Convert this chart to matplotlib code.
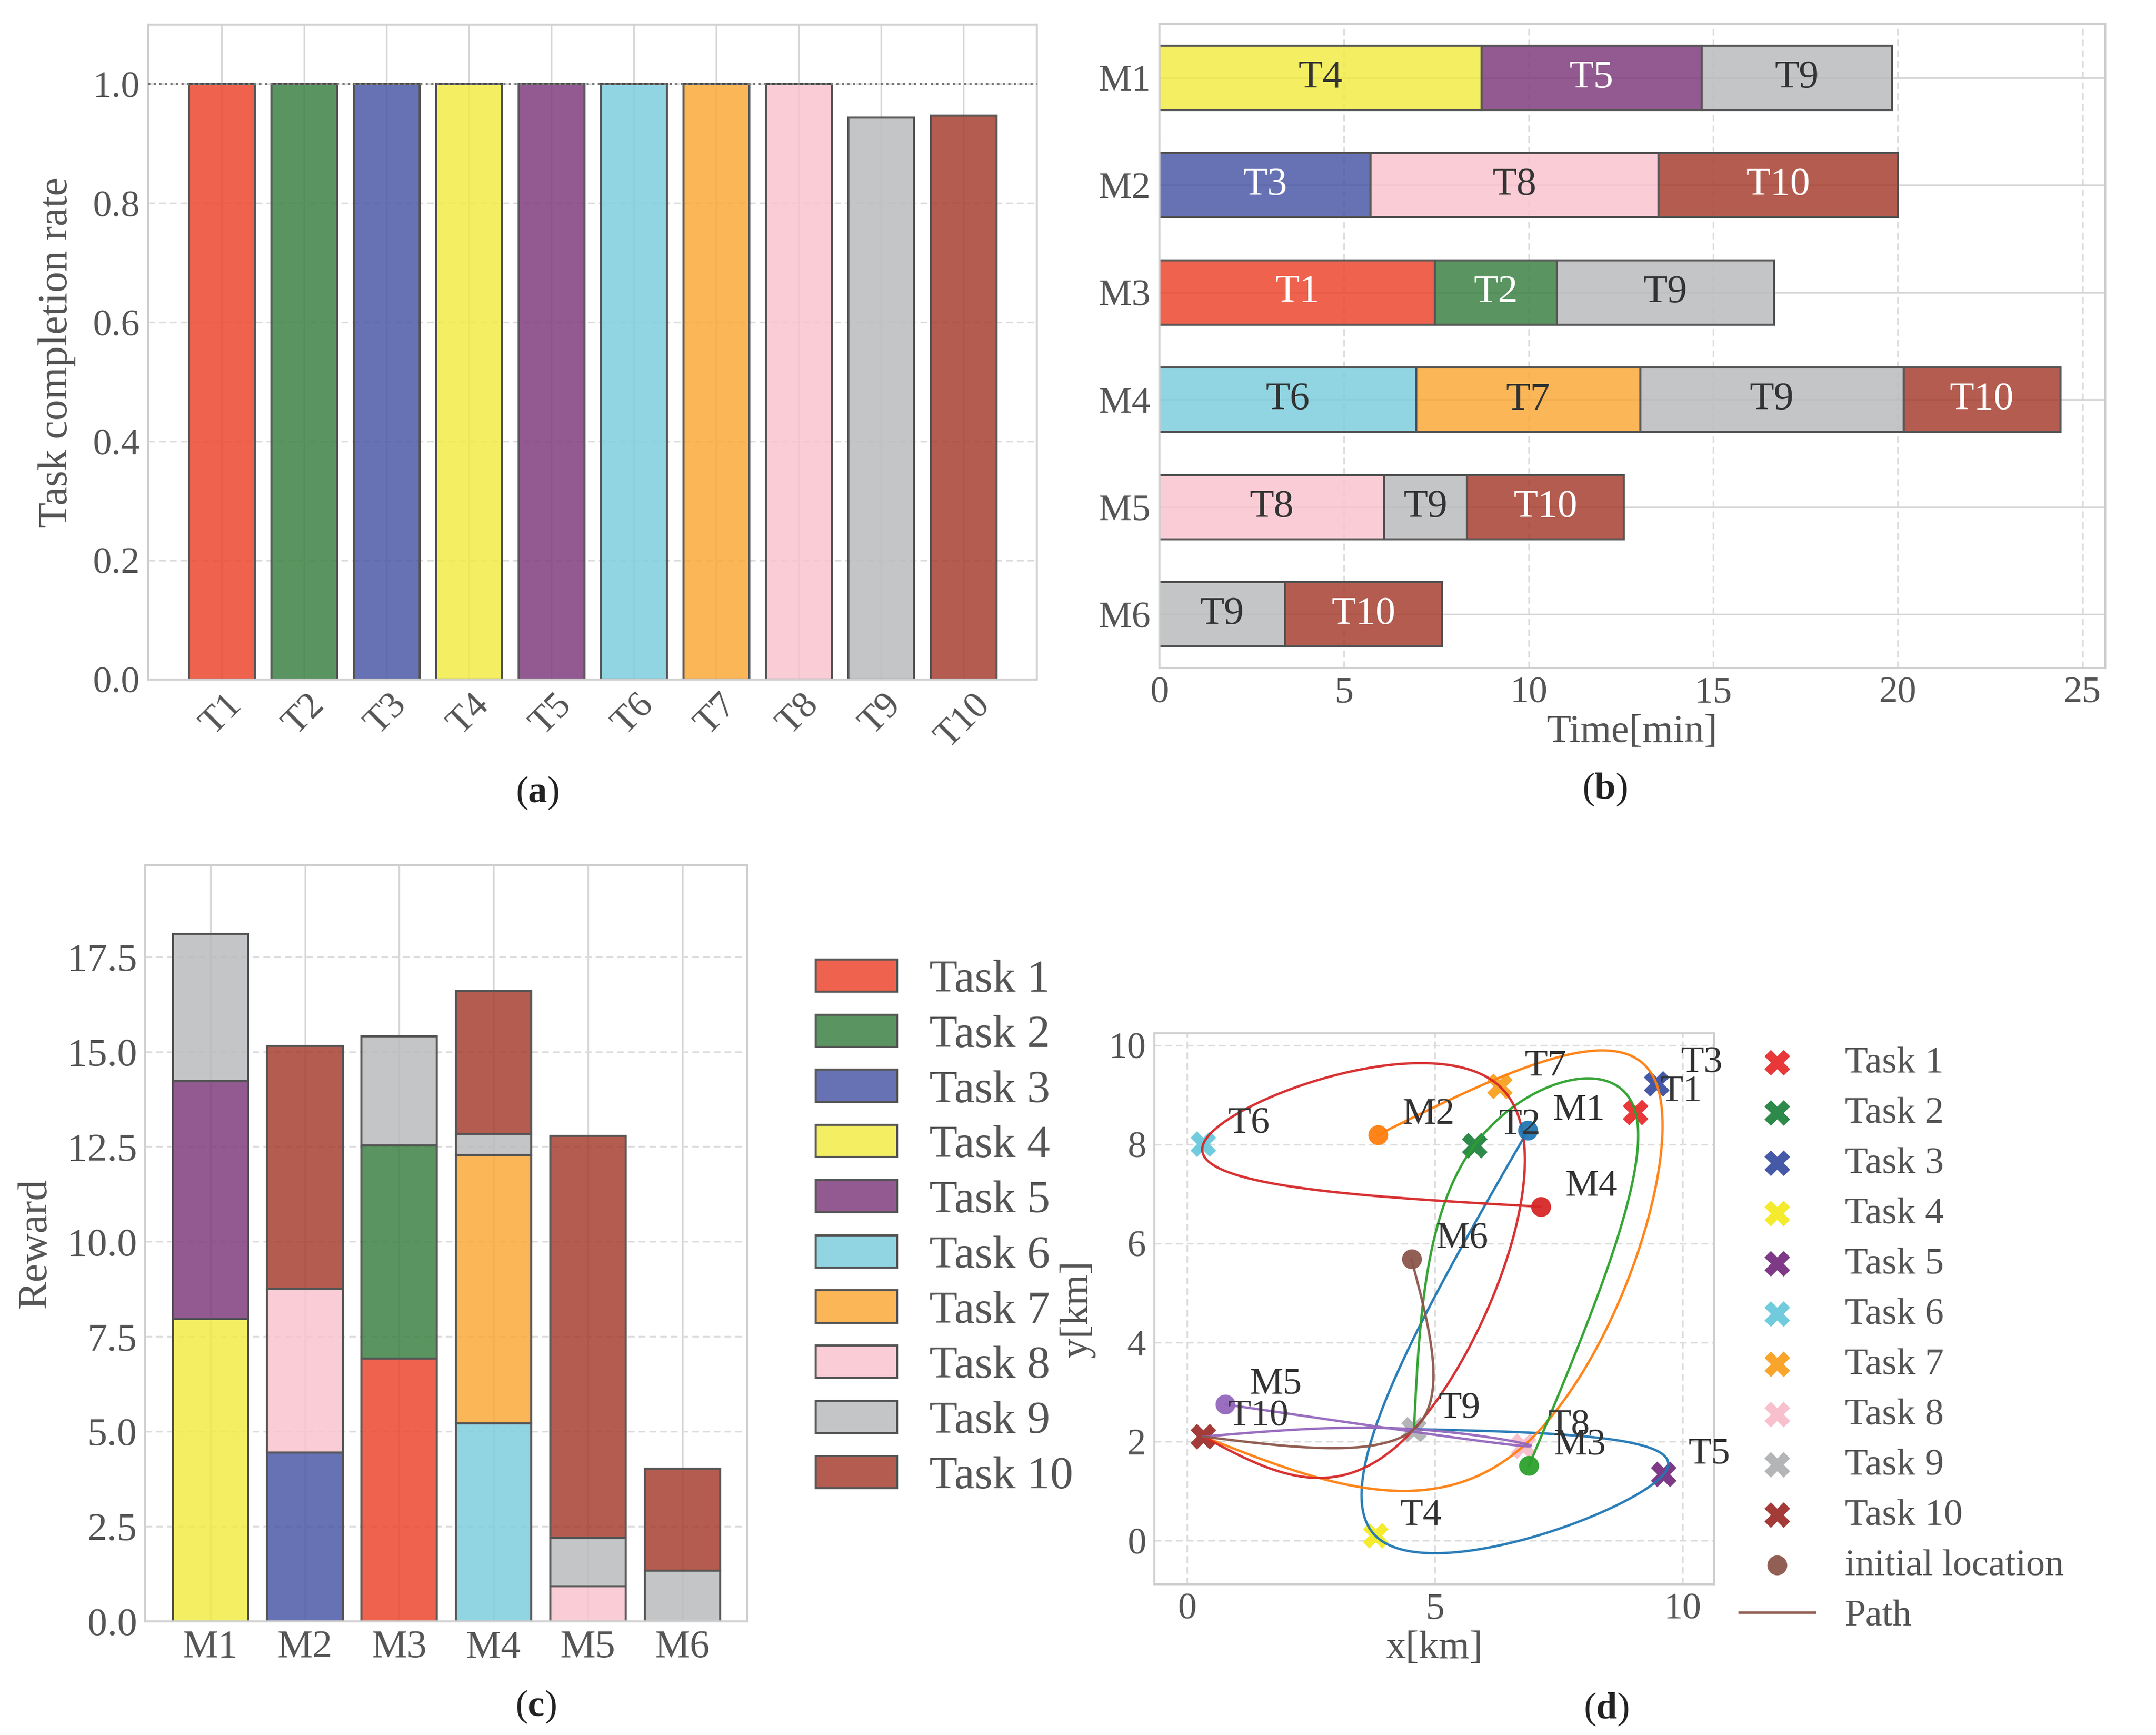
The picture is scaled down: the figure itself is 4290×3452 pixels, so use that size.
import numpy as np
import matplotlib
matplotlib.use('Agg')
import matplotlib.pyplot as plt
from matplotlib.colors import to_rgba
from matplotlib.patches import Patch

plt.rcParams['font.family'] = ['Liberation Serif', 'DejaVu Serif']
plt.rcParams['mathtext.fontset'] = 'custom'
plt.rcParams['mathtext.rm'] = 'Liberation Serif'
plt.rcParams['mathtext.bf'] = 'Liberation Serif:bold'

# ---------------- data ----------------
tasks = ['T1', 'T2', 'T3', 'T4', 'T5', 'T6', 'T7', 'T8', 'T9', 'T10']
task_names = ['Task 1', 'Task 2', 'Task 3', 'Task 4', 'Task 5',
              'Task 6', 'Task 7', 'Task 8', 'Task 9', 'Task 10']
completion_rate = [1.0, 1.0, 1.0, 1.0, 1.0, 1.0, 1.0, 1.0, 0.944, 0.947]

machines = ['M1', 'M2', 'M3', 'M4', 'M5', 'M6']
# task sequence per machine (task numbers), finish times [min], rewards
m1_seq = [4, 5, 9]
m2_seq = [3, 8, 10]
m3_seq = [1, 2, 9]
m4_seq = [6, 7, 9, 10]
m5_seq = [8, 9, 10]
m6_seq = [9, 10]

m1_end = [8.72, 14.69, 19.84]
m2_end = [5.72, 13.52, 19.99]
m3_end = [7.46, 10.77, 16.64]
m4_end = [6.95, 13.02, 20.16, 24.40]
m5_end = [6.08, 8.33, 12.58]
m6_end = [3.40, 7.65]

m1_reward = [7.97, 6.26, 3.88]
m2_reward = [4.44, 4.32, 6.39]
m3_reward = [6.92, 5.61, 2.87]
m4_reward = [5.21, 7.07, 0.56, 3.76]
m5_reward = [0.92, 1.27, 10.59]
m6_reward = [1.33, 2.69]

# task locations [km]
task_x = [9.05, 5.80, 9.47, 3.80, 9.62, 0.33, 6.31, 6.79, 4.58, 0.33]
task_y = [8.65, 7.98, 9.23, 0.10, 1.34, 8.01, 9.17, 1.91, 2.25, 2.10]
# initial machine locations [km]
init_x = [6.88, 3.85, 6.90, 7.14, 0.77, 4.53]
init_y = [8.28, 8.19, 1.51, 6.74, 2.75, 5.68]

# ---------------- styles ----------------
bar_colors = ['#ED482F', '#3D8345', '#4B59A7', '#F2EB46', '#803D7E',
              '#7ECEDF', '#FAA939', '#F9C3CF', '#BABBBD', '#A73F31']
dot_colors = ['#E8383A', '#2E8A4A', '#4659A6', '#F4EB2E', '#7E3A87',
              '#70CCDD', '#F9A52C', '#F8BFCC', '#B4B5B7', '#A33C38']
path_colors = ['#1f77b4', '#ff7f0e', '#2ca02c', '#d62728', '#9467bd', '#8c564b']
white_text = {1, 2, 3, 5, 10}
ALPHA = 0.85
EDGE = '#555555'
TXT = '#555555'
SPINE = '#d0d0d0'
GRID_SOLID = '#d6d6d6'
GRID_DASH = '#dcdcdc'
DASH = (0, (4, 2.4))

seqs = [m1_seq, m2_seq, m3_seq, m4_seq, m5_seq, m6_seq]
ends = [m1_end, m2_end, m3_end, m4_end, m5_end, m6_end]
rewards = [m1_reward, m2_reward, m3_reward, m4_reward, m5_reward, m6_reward]


def face(k):
    return to_rgba(bar_colors[k], ALPHA)


def style(ax, xgrid, ygrid, size=17):
    for s in ax.spines.values():
        s.set_color(SPINE)
        s.set_linewidth(1.0)
    ax.tick_params(length=0, labelsize=size, labelcolor=TXT, pad=4)
    ax.set_axisbelow(True)
    for axis, kind in ((ax.xaxis, xgrid), (ax.yaxis, ygrid)):
        if kind == 'solid':
            axis.grid(True, color=GRID_SOLID, lw=0.8, ls='-')
        elif kind == 'dash':
            axis.grid(True, color=GRID_DASH, lw=0.8, ls=DASH)


def natural_spline(y, num_per_seg=80):
    """Natural cubic spline through y over a uniform parameter 0..n-1."""
    y = np.asarray(y, float)
    n = len(y)
    if n == 2:
        s = np.linspace(0, 1, num_per_seg)
        return y[0] + (y[1] - y[0]) * s
    A = np.zeros((n, n))
    rhs = np.zeros(n)
    A[0, 0] = 1
    A[-1, -1] = 1
    for i in range(1, n - 1):
        A[i, i - 1:i + 2] = [1, 4, 1]
        rhs[i] = 6 * (y[i - 1] - 2 * y[i] + y[i + 1])
    M = np.linalg.solve(A, rhs)
    out = []
    for i in range(n - 1):
        s = np.linspace(0, 1, num_per_seg, endpoint=(i == n - 2))
        seg = (M[i] * (1 - s) ** 3 / 6 + M[i + 1] * s ** 3 / 6
               + (y[i] - M[i] / 6) * (1 - s) + (y[i + 1] - M[i + 1] / 6) * s)
        out.append(seg)
    return np.concatenate(out)


fig = plt.figure(figsize=(14.3, 11.5067), dpi=300)
axA = fig.add_axes([0.0688, 0.6083, 0.4121, 0.3775])
axB = fig.add_axes([0.5378, 0.6150, 0.4387, 0.3711])
axC = fig.add_axes([0.0674, 0.0655, 0.2793, 0.4360])
axD = fig.add_axes([0.5354, 0.0869, 0.2597, 0.3175])

# ---------------- (a) ----------------
style(axA, 'solid', 'dash', size=18)
xa = np.arange(len(tasks))
axA.bar(xa, completion_rate, width=0.8, color=[face(k) for k in range(10)],
        edgecolor=EDGE, linewidth=1.0)
axA.axhline(1.0, color='#808080', ls=':', lw=1.0, zorder=3)
axA.set_ylim(0, 1.1)
axA.set_yticks(np.arange(0, 1.01, 0.2))
axA.set_yticklabels(['%.1f' % v for v in np.arange(0, 1.01, 0.2)])
axA.set_xticks(xa)
axA.set_xticklabels(tasks, rotation=45)
axA.set_ylabel('Task completion rate', fontsize=20, color=TXT, labelpad=8)

# ---------------- (b) ----------------
style(axB, 'dash', 'solid', size=18)
for i in range(len(machines)):
    starts = [0.0] + ends[i][:-1]
    for t, s0, e0 in zip(seqs[i], starts, ends[i]):
        axB.barh(i, e0 - s0, left=s0, height=0.6, color=face(t - 1),
                 edgecolor=EDGE, linewidth=1.0)
        axB.text((s0 + e0) / 2, i, 'T%d' % t, ha='center', va='center',
                 fontsize=19, color='white' if t in white_text else '#333333')
axB.set_yticks(range(len(machines)))
axB.set_yticklabels(machines)
axB.set_ylim(len(machines) - 0.5, -0.5)
axB.set_xlim(0, 1.05 * max(max(e) for e in ends))
axB.set_xticks([0, 5, 10, 15, 20, 25])
axB.set_xlabel('Time[min]', fontsize=19, color=TXT, labelpad=2)

# ---------------- (c) ----------------
style(axC, 'solid', 'dash', size=19)
for i in range(len(machines)):
    bottom = 0.0
    for t, r in zip(seqs[i], rewards[i]):
        axC.bar(i, r, bottom=bottom, width=0.8, color=face(t - 1),
                edgecolor=EDGE, linewidth=1.0)
        bottom += r
totals = [sum(r) for r in rewards]
axC.set_ylim(0, 1.1 * max(totals))
yt = np.arange(0, 17.6, 2.5)
axC.set_yticks(yt)
axC.set_yticklabels(['%.1f' % v for v in yt])
axC.set_xticks(range(len(machines)))
axC.set_xticklabels(machines)
axC.set_ylabel('Reward', fontsize=20, color=TXT, labelpad=6)
handlesC = [Patch(facecolor=face(k), edgecolor=EDGE, linewidth=1.0) for k in range(10)]
fig.legend(handlesC, task_names, loc='upper left', bbox_to_anchor=(0.3783, 0.447),
           frameon=False, fontsize=22, handlelength=1.77, handleheight=0.7,
           handletextpad=0.7, labelspacing=0.29, borderpad=0, borderaxespad=0,
           labelcolor=TXT)

# ---------------- (d) ----------------
style(axD, 'dash', 'dash', size=18)
task_handles = []
for k in range(10):
    h = axD.scatter(task_x[k], task_y[k], marker='X', s=150, color=dot_colors[k],
                    linewidths=0, zorder=2)
    task_handles.append(h)
    axD.text(task_x[k] + 0.5, task_y[k] + 0.22, tasks[k], fontsize=18, color='#333333',
             zorder=6)
start_handle = None
path_handle = None
for m in range(len(machines)):
    px = [init_x[m]] + [task_x[t - 1] for t in seqs[m]]
    py = [init_y[m]] + [task_y[t - 1] for t in seqs[m]]
    cx = natural_spline(px)
    cy = natural_spline(py)
    path_handle, = axD.plot(cx, cy, color=path_colors[m], lw=1.15, alpha=0.95, zorder=3)
    start_handle = axD.scatter(init_x[m], init_y[m], marker='o', s=90,
                               color=path_colors[m], alpha=0.95, linewidths=0, zorder=4)
    axD.text(init_x[m] + 0.5, init_y[m] + 0.22, machines[m], fontsize=18,
             color='#333333', zorder=6)
axD.set_xlim(-0.66, 10.64)
axD.set_ylim(-0.88, 10.24)
axD.set_xticks([0, 5, 10])
axD.set_yticks([0, 2, 4, 6, 8, 10])
axD.set_xlabel('x[km]', fontsize=19, color=TXT, labelpad=2)
axD.set_ylabel('y[km]', fontsize=19, color=TXT, labelpad=6)
fig.legend(task_handles + [start_handle, path_handle],
           task_names + ['initial location', 'Path'],
           loc='upper left', bbox_to_anchor=(0.8068, 0.397), frameon=False,
           fontsize=18, handlelength=2.0, handletextpad=0.8, labelspacing=0.42,
           borderpad=0, borderaxespad=0, labelcolor=TXT, scatterpoints=1)

# ---------------- captions ----------------
for lab, cx, cy in (('a', 1069, 1578), ('b', 3193, 1571), ('c', 1066, 3396), ('d', 3196, 3401)):
    fig.text(cx / 4290, 1 - cy / 3452, r'($\mathbf{%s}$)' % lab, ha='center', va='center',
             fontsize=18, color='#222222')

fig.savefig('out.png', dpi=300)
